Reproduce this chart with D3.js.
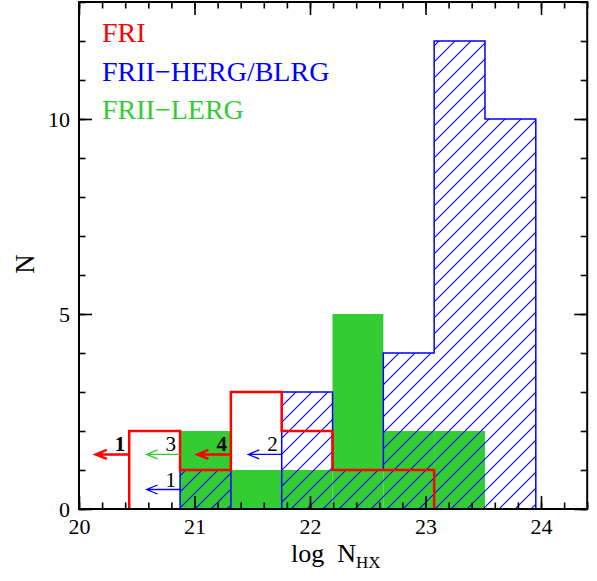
<!DOCTYPE html>
<html>
<head>
<meta charset="utf-8">
<script src="https://cdn.jsdelivr.net/npm/d3@7"></script>
<style>
  body { margin: 0; background: #fff; }
  svg { display: block; }
</style>
</head>
<body>
<script>
'use strict';

// histogram bin edges in log N_HX
const binEdges = [20.435, 20.875, 21.315, 21.755, 22.195, 22.635, 23.075, 23.515, 23.955];

// counts per bin for every class
const friCounts   = [2, 1, 3, 2, 1, 1, 0, 0];
const hergCounts  = [0, 1, 0, 3, 1, 4, 12, 10];
const lergCounts  = [0, 2, 1, 1, 5, 2, 2, 0];

// upper limits drawn as arrows (x, y, number, class)
const limitX     = [20.435, 20.875, 21.315, 21.755, 20.875];
const limitY     = [1.4, 1.4, 1.4, 1.4, 0.5];
const limitText  = ["1", "3", "4", "2", "1"];
const limitClass = ["fri", "lerg", "fri", "herg", "herg"];

// axes ticks
const xMajor = [20, 21, 22, 23, 24];
const xMinor = d3.range(20, 24.41, 0.2).map(d => Math.round(d * 10) / 10);
const yMajor = [0, 5, 10];
const yMinor = d3.range(0, 14, 1);

const legendNames = ["FRI", "FRII\u2212HERG/BLRG", "FRII\u2212LERG"];

(function() {

  const width = 597, height = 581;
  const colors = { fri: "#ff0000", herg: "#0000ff", lerg: "#33cc33" };
  const serif = "'Liberation Serif', 'DejaVu Serif', serif";

  let svg = d3.select('body')
    .append('svg')
    .attr('width', width)
    .attr('height', height);

  let x = d3.scaleLinear().domain([20, 24.4]).range([79, 587.2]);
  let y = d3.scaleLinear().domain([0, 13]).range([509, 2]);

  // hatch pattern for the HERG/BLRG histogram
  svg.append('defs').append('pattern')
    .attr('id', 'herg-hatch')
    .attr('patternUnits', 'userSpaceOnUse')
    .attr('width', 16)
    .attr('height', 16)
    .append('path')
      .attr('d', 'M-4,4 L4,-4 M0,16 L16,0 M12,20 L20,12')
      .style('fill', 'none')
      .style('stroke', colors.herg)
      .style('stroke-width', 1.1);

  // turn counts into a step outline, dropping empty bins at the end
  function stepPoints(counts) {
    let last = counts.length;
    while (last > 0 && counts[last - 1] === 0) last--;
    let pts = [[binEdges[0], 0]];
    for (let i = 0; i < last; i++) {
      pts.push([binEdges[i], counts[i]]);
      pts.push([binEdges[i + 1], counts[i]]);
    }
    pts.push([binEdges[last], 0]);
    return pts;
  }

  let line = d3.line().x(d => x(d[0])).y(d => y(d[1]));

  // green solid bars first
  svg.selectAll('.lerg')
    .data(lergCounts)
    .enter()
    .append('rect')
      .attr('x', (d, i) => x(binEdges[i]))
      .attr('y', d => y(d))
      .attr('width', (d, i) => x(binEdges[i + 1]) - x(binEdges[i]))
      .attr('height', d => y(0) - y(d))
      .attr('fill', colors.lerg);

  // hatched blue histogram
  svg.append('path')
    .attr('d', line(stepPoints(hergCounts)) + 'Z')
    .style('fill', 'url(#herg-hatch)')
    .style('stroke', colors.herg)
    .style('stroke-width', 1.5);

  // red outline histogram
  svg.append('path')
    .attr('d', line(stepPoints(friCounts)))
    .attr('fill', 'none')
    .attr('stroke', colors.fri)
    .attr('stroke-width', 2.5);

  // upper limit arrows
  limitX.forEach((lx, i) => {
    let c = colors[limitClass[i]];
    let x0 = x(lx), x1 = x(lx - 0.29), yy = y(limitY[i]);
    let w = limitClass[i] === 'fri' ? 2.5 : 1.3;
    svg.append('path')
      .attr('d', `M${x0},${yy}H${x1}M${x1 + 11},${yy - 4.5}L${x1},${yy}L${x1 + 11},${yy + 4.5}`)
      .attr('fill', 'none')
      .attr('stroke', c)
      .attr('stroke-width', w);
    svg.append('text')
      .attr('x', x0 - 4)
      .attr('y', yy - 3)
      .attr('text-anchor', 'end')
      .style('font-family', serif)
      .style('font-size', '21px')
      .style('font-weight', limitClass[i] === 'fri' ? 'bold' : 'normal')
      .text(limitText[i]);
  });

  // legend
  legendNames.forEach((name, i) => {
    svg.append('text')
      .attr('x', 102)
      .attr('y', 42 + i * 38.5)
      .attr('fill', [colors.fri, colors.herg, colors.lerg][i])
      .style('font-family', serif)
      .style('font-size', '28px')
      .text(name);
  });

  // axes with inward ticks on all four sides
  function addAxis(axis, transform, values, size, labels) {
    let g = svg.append('g')
      .attr('transform', transform)
      .call(axis.tickValues(values).tickSize(-size).tickPadding(labels ? 9 : 0)
        .tickFormat(labels ? d3.format('d') : ''));
    g.select('.domain').remove();
    g.selectAll('line').attr('stroke', '#000').attr('stroke-width', 1.6);
    g.selectAll('text')
      .style('font-family', serif)
      .style('font-size', '22px')
      .attr('fill', '#000');
    return g;
  }

  addAxis(d3.axisBottom(x), 'translate(0,509)', xMajor, 13, true);
  addAxis(d3.axisBottom(x), 'translate(0,509)', xMinor, 6.5, false);
  addAxis(d3.axisTop(x), 'translate(0,2)', xMajor, 13, false);
  addAxis(d3.axisTop(x), 'translate(0,2)', xMinor, 6.5, false);
  addAxis(d3.axisLeft(y), 'translate(79,0)', yMajor, 13, true);
  addAxis(d3.axisLeft(y), 'translate(79,0)', yMinor, 6.5, false);
  addAxis(d3.axisRight(y), 'translate(587.2,0)', yMajor, 13, false);
  addAxis(d3.axisRight(y), 'translate(587.2,0)', yMinor, 6.5, false);

  // frame
  svg.append('rect')
    .attr('x', 79)
    .attr('y', 2)
    .attr('width', 587.2 - 79)
    .attr('height', 507)
    .attr('fill', 'none')
    .attr('stroke', '#000')
    .attr('stroke-width', 2);

  // axis titles
  let xt = svg.append('text')
    .attr('x', 291)
    .attr('y', 562)
    .style('font-family', serif)
    .style('font-size', '26px');
  xt.append('tspan').text('log');
  xt.append('tspan').attr('dx', 13).text('N');
  xt.append('tspan')
    .attr('dy', 6)
    .style('font-size', '17px')
    .text('HX');

  svg.append('text')
    .attr('transform', 'translate(34,264)rotate(-90)')
    .attr('text-anchor', 'middle')
    .style('font-family', serif)
    .style('font-size', '27px')
    .text('N');

})();
</script>
</body>
</html>
